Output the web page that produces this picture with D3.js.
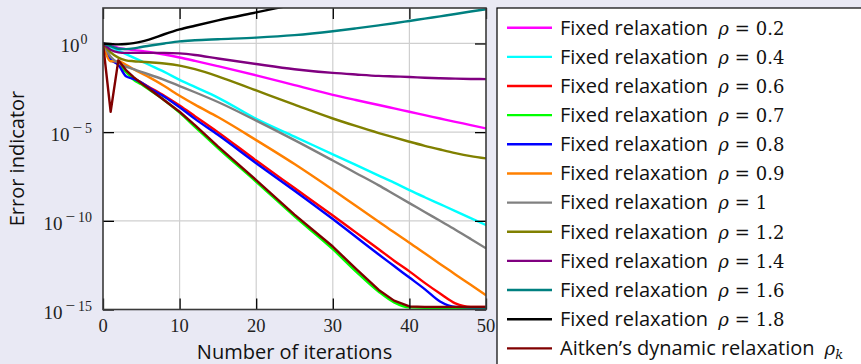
<!DOCTYPE html>
<html>
<head>
<meta charset="utf-8">
<script src="https://cdn.jsdelivr.net/npm/d3@7/dist/d3.min.js"></script>
<style>
  html, body { margin: 0; padding: 0; background: #e9e9f4; }
  svg { display: block; }
</style>
</head>
<body>
<svg id="chart" width="861" height="364"></svg>
<script>
// ---------------- DATA ----------------
const iterations = [0,1,2,3,4,5,6,8,10,12,15,20,25,30,33,36,38,40,42,44,46,48,50];

const seriesNames = [
  "Fixed relaxation|0.2", "Fixed relaxation|0.4", "Fixed relaxation|0.6", "Fixed relaxation|0.7",
  "Fixed relaxation|0.8", "Fixed relaxation|0.9", "Fixed relaxation|1", "Fixed relaxation|1.2",
  "Fixed relaxation|1.4", "Fixed relaxation|1.6", "Fixed relaxation|1.8", "Aitken’s dynamic relaxation|k"
];
const seriesColors = ["#ff00ff","#00ffff","#ff0000","#00ff00","#0000ff","#ff8000","#808080","#808000","#800080","#008080","#000000","#800000"];

// log10 of the error indicator, one value per entry of `iterations`
const rho02 = [0,-0.12,-0.25,-0.32,-0.37,-0.42,-0.48,-0.62,-0.79,-0.98,-1.28,-1.8,-2.35,-2.9,-3.19,-3.47,-3.66,-3.85,-4.04,-4.23,-4.42,-4.6,-4.79];
const rho04 = [0,-0.2,-0.4,-0.6,-0.8,-1.0,-1.2,-1.6,-2.05,-2.45,-3.05,-4.25,-5.25,-6.25,-6.85,-7.45,-7.85,-8.27,-8.67,-9.06,-9.45,-9.85,-10.24];
const rho06 = [0,-0.8,-1.2,-1.6,-1.95,-2.2,-2.45,-2.95,-3.5,-4.1,-5.0,-6.6,-8.15,-9.7,-10.65,-11.6,-12.25,-12.85,-13.5,-14.1,-14.65,-14.85,-14.85];
const rho07 = [0,-0.8,-1.2,-1.6,-2.05,-2.3,-2.6,-3.2,-3.9,-4.7,-5.9,-7.8,-9.75,-11.6,-12.85,-14.0,-14.6,-14.88,-14.9,-14.9,-14.9,-14.9,-14.9];
const rho08 = [0,-0.9,-1.2,-1.85,-2.0,-2.2,-2.5,-3.0,-3.6,-4.25,-5.15,-6.75,-8.3,-9.9,-10.9,-11.9,-12.55,-13.2,-13.85,-14.55,-14.85,-14.87,-14.87];
const rho09 = [0,-1.0,-1.0,-1.2,-1.45,-1.68,-1.9,-2.4,-2.95,-3.45,-4.15,-5.45,-6.8,-8.25,-9.15,-10.05,-10.65,-11.23,-11.83,-12.43,-13.02,-13.61,-14.2];
const rho10 = [0,-0.75,-1.1,-1.3,-1.45,-1.6,-1.75,-2.05,-2.4,-2.75,-3.3,-4.35,-5.45,-6.6,-7.3,-8.0,-8.5,-9.0,-9.5,-10.0,-10.5,-11.02,-11.55];
const rho12 = [0,-0.5,-0.8,-0.95,-1.0,-1.03,-1.06,-1.13,-1.25,-1.45,-1.85,-2.65,-3.45,-4.23,-4.65,-5.05,-5.3,-5.54,-5.77,-5.98,-6.18,-6.35,-6.48];
const rho14 = [0,-0.35,-0.5,-0.53,-0.53,-0.53,-0.53,-0.53,-0.56,-0.65,-0.85,-1.16,-1.45,-1.66,-1.75,-1.83,-1.86,-1.89,-1.93,-1.96,-1.98,-2.0,-2.01];
const rho16 = [0,-0.15,-0.3,-0.32,-0.28,-0.2,-0.13,0.0,0.12,0.18,0.24,0.33,0.47,0.69,0.85,1.02,1.14,1.27,1.4,1.53,1.66,1.8,1.93];
const rho18 = [0,-0.03,-0.05,-0.03,0.02,0.1,0.22,0.52,0.79,1.0,1.3,1.75,2.2,null,null,null,null,null,null,null,null,null,null];
const aitken = [0,-3.85,-0.95,-1.5,-1.9,-2.25,-2.55,-3.2,-3.85,-4.6,-5.8,-7.7,-9.65,-11.45,-12.7,-13.9,-14.5,-14.83,-14.85,-14.85,-14.85,-14.85,-14.85];

const seriesValues = [rho02, rho04, rho06, rho07, rho08, rho09, rho10, rho12, rho14, rho16, rho18, aitken];

const xTicks = [0,10,20,30,40,50];
const yTickExponents = [0,-5,-10,-15];
const xTitle = "Number of iterations";
const yTitle = "Error indicator";

// ---------------- DRAWING ----------------
(function () {
const svg = d3.select("#chart");
const pL = 103, pR = 486, pT = 8, pB = 309.5;
const x = d3.scaleLinear().domain([0, 50]).range([pL, pR]);
const y = d3.scaleLog().domain([1e-15, 1e2]).range([pB, pT]);

const sansFont = "'Open Sans', 'DejaVu Sans', sans-serif";
const serifFont = "'Liberation Serif', 'DejaVu Serif', serif";
const mathFont = "'DejaVu Serif', serif";
const sansSize = 20;

svg.append("rect").attr("x", pL).attr("y", pT).attr("width", pR - pL).attr("height", pB - pT).attr("fill", "#ffffff");

const grid = svg.append("g").attr("stroke", "#cfcfcf").attr("stroke-width", 1.2);
xTicks.slice(1, -1).forEach(t => grid.append("line").attr("x1", x(t)).attr("x2", x(t)).attr("y1", pT).attr("y2", pB));
yTickExponents.slice(0, -1).forEach(e => grid.append("line").attr("x1", pL).attr("x2", pR).attr("y1", y(Math.pow(10, e))).attr("y2", y(Math.pow(10, e))));

svg.append("clipPath").attr("id", "clip").append("rect").attr("x", pL).attr("y", pT).attr("width", pR - pL).attr("height", pB - pT);

const plot = svg.append("g").attr("clip-path", "url(#clip)");
seriesValues.forEach((vals, i) => {
  const pts = iterations.map((it, j) => ({ it, v: vals[j] })).filter(d => d.v !== null);
  const line = d3.line()
    .x(d => x(d.it))
    .y(d => y(Math.pow(10, d.v)))
    .curve(i === seriesValues.length - 1 ? d3.curveLinear : d3.curveMonotoneX);
  plot.append("path").attr("d", line(pts)).attr("fill", "none")
    .attr("stroke", seriesColors[i]).attr("stroke-width", 2.4).attr("stroke-linejoin", "round");
});

const tickLen = 11;
const yTickVals = yTickExponents.map(e => Math.pow(10, e));
const axBottom = svg.append("g").attr("transform", `translate(0,${pB})`)
  .call(d3.axisBottom(x).tickValues(xTicks).tickSize(-tickLen).tickFormat(""));
const axTop = svg.append("g").attr("transform", `translate(0,${pT})`)
  .call(d3.axisTop(x).tickValues(xTicks).tickSize(-tickLen).tickFormat(""));
const axLeft = svg.append("g").attr("transform", `translate(${pL},0)`)
  .call(d3.axisLeft(y).tickValues(yTickVals).tickSize(-tickLen).tickFormat(""));
const axRight = svg.append("g").attr("transform", `translate(${pR},0)`)
  .call(d3.axisRight(y).tickValues(yTickVals).tickSize(-tickLen).tickFormat(""));
[axBottom, axTop, axLeft, axRight].forEach(a => {
  a.select(".domain").remove();
  a.selectAll(".tick line").attr("stroke", "#000").attr("stroke-width", 1.3);
});

svg.append("rect").attr("x", pL).attr("y", pT).attr("width", pR - pL).attr("height", pB - pT)
  .attr("fill", "none").attr("stroke", "#3a3a3a").attr("stroke-width", 1.6);

xTicks.forEach(t => {
  svg.append("text").attr("x", x(t)).attr("y", 331.5).attr("text-anchor", "middle")
    .attr("font-family", serifFont).attr("font-size", 18.5).attr("fill", "#222").text(t);
});
yTickExponents.forEach(e => {
  const t = svg.append("text").attr("x", e === 0 ? 87.5 : 92).attr("y", y(Math.pow(10, e)) + 9).attr("text-anchor", "end")
    .attr("font-family", serifFont).attr("font-size", 19).attr("fill", "#222");
  t.append("tspan").text("10");
  if (e === 0) {
    t.append("tspan").attr("dy", -8).attr("dx", 1).attr("font-size", 14).text("0");
  } else {
    t.append("tspan").attr("dy", -8).attr("dx", 3).attr("font-size", 17).text("−");
    t.append("tspan").attr("dx", 3).attr("font-size", 14).text(Math.abs(e));
  }
});

svg.append("text").attr("x", 294.5).attr("y", 358.5).attr("text-anchor", "middle")
  .attr("font-family", sansFont).attr("font-size", sansSize).attr("fill", "#111").text(xTitle);
svg.append("text").attr("transform", "translate(24,158.5) rotate(-90)").attr("text-anchor", "middle")
  .attr("font-family", sansFont).attr("font-size", sansSize).attr("fill", "#111").text(yTitle);

const lg = svg.append("g");
lg.append("rect").attr("x", 497).attr("y", 8).attr("width", 420).attr("height", 400)
  .attr("fill", "#fff").attr("stroke", "#000").attr("stroke-width", 1.2);
seriesNames.forEach((name, i) => {
  const ly = 27.7 + i * 29.15;
  lg.append("line").attr("x1", 507).attr("x2", 552).attr("y1", ly).attr("y2", ly)
    .attr("stroke", seriesColors[i]).attr("stroke-width", 2.4);
  const [label, rho] = name.split("|");
  const t = lg.append("text").attr("x", 560).attr("y", ly + 6.8).attr("fill", "#111");
  t.append("tspan").attr("font-family", sansFont).attr("font-size", sansSize).text(label);
  t.append("tspan").attr("dx", 10).attr("font-family", mathFont).attr("font-style", "italic").attr("font-size", 18).text("ρ");
  if (rho === "k") {
    t.append("tspan").attr("font-family", mathFont).attr("font-style", "italic").attr("font-size", 13).attr("dy", 4).text("k");
  } else {
    t.append("tspan").attr("dx", 6).attr("font-family", mathFont).attr("font-size", 18).text("=");
    t.append("tspan").attr("dx", 6).attr("font-family", mathFont).attr("font-size", 18).text(rho);
  }
});
})();
</script>
</body>
</html>
